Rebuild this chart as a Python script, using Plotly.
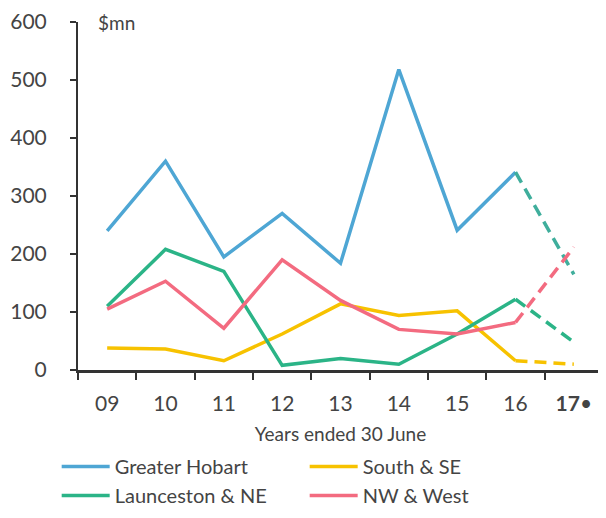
import plotly.graph_objects as go

years = ["09", "10", "11", "12", "13", "14", "15", "16", "17"]
year_labels = ["09", "10", "11", "12", "13", "14", "15", "16", "<b>17</b>•"]

hobart = [240, 360, 195, 270, 184, 518, 241, 341, 165]
launceston = [110, 208, 170, 8, 20, 10, 62, 122, 48]
south = [38, 36, 16, 62, 114, 94, 102, 16, 10]
nw_west = [105, 153, 72, 190, 120, 70, 62, 82, 212]

series = [
    ("Greater Hobart", hobart, "#4ea6d4", "#3fae9c"),
    ("South & SE", south, "#f7c200", "#f7c200"),
    ("Launceston & NE", launceston, "#2bb487", "#2bb487"),
    ("NW & West", nw_west, "#f36b80", "#f36b80"),
]

fig = go.Figure()
for name, vals, col, dcol in series:
    # actuals up to 16, estimate for 17 drawn dashed
    fig.add_trace(go.Scatter(
        x=years[:8], y=vals[:8], name=name, mode="lines",
        line=dict(color=col, width=3.5),
    ))
    fig.add_trace(go.Scatter(
        x=years[7:], y=vals[7:], name=name, mode="lines", showlegend=False,
        line=dict(color=dcol, width=3.5, dash="12px,7px"),
    ))

# page body has an 8px margin, so the figure is 8px smaller each way
fig.update_layout(
    width=598, height=510,
    margin=dict(l=70, r=3, t=14, b=148),
    paper_bgcolor="white", plot_bgcolor="white",
    font=dict(family="Lato, Noto Sans, sans-serif", size=21, color="#444444"),
    showlegend=True,
    legend=dict(
        orientation="h", xref="container", x=0.0814, xanchor="left",
        yref="container", y=0.139, yanchor="top",
        entrywidth=185, tracegroupgap=0, itemwidth=48,
        font=dict(size=20, color="#444444"),
    ),
    xaxis=dict(
        type="category", categoryorder="array", categoryarray=years,
        tickvals=years, ticktext=year_labels,
        range=[-0.5, 8.5], tickson="boundaries", automargin=False,
        ticks="outside", ticklen=7, tickwidth=2, tickcolor="#333333",
        showline=True, linecolor="#333333", linewidth=2.5,
        showgrid=False, zeroline=False, ticklabelstandoff=13,
        title=dict(text="Years ended 30 June", standoff=14, font=dict(size=19)),
    ),
    yaxis=dict(
        range=[0, 600], dtick=100, automargin=False,
        ticks="outside", ticklen=6, tickwidth=1.5, tickcolor="#333333",
        showline=True, linecolor="#333333", linewidth=2,
        showgrid=False, zeroline=False, ticklabelstandoff=19,
    ),
    annotations=[dict(
        text="$mn", xref="paper", yref="paper", x=0.035, y=1.0,
        xanchor="left", yanchor="middle", showarrow=False,
        font=dict(size=19, color="#444444"),
    )],
)

fig.write_html("out.html")
